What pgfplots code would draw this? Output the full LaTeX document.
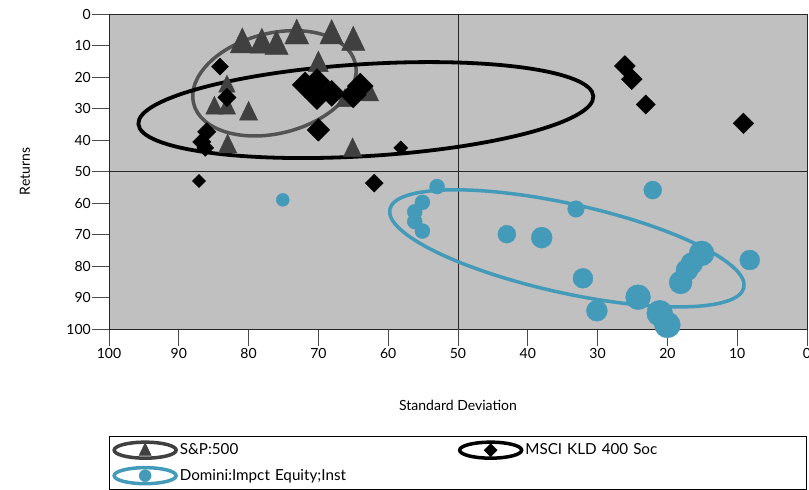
\documentclass[border=0pt]{standalone}
\usepackage{fontspec}
\setmainfont{Lato}
\usepackage{pgfplots}
\usepackage{pgfplotstable}
\pgfplotsset{compat=1.18}
\definecolor{bggray}{RGB}{192,192,192}
\definecolor{spgray}{RGB}{64,64,64}
\definecolor{domblue}{RGB}{68,154,185}

\pgfplotstableread{
x y s
80.9 9.7 13.9
78.1 9.8 13.9
76.0 10.3 13.5
73.1 6.9 13.9
68.1 6.9 13.5
65.0 9.0 13.5
70.0 16.1 11.5
83.1 23.0 9.5
84.9 29.9 10
83.1 29.9 10
80.0 31.7 10.5
83.0 42.1 10.5
65.1 43.3 10.5
62.6 25.7 10
66.2 27.5 10
}\sptable

\pgfplotstableread{
x y s
84.1 16.7 6
83.1 26.5 6.5
86.0 37.4 6.5
86.7 40.6 6.5
86.2 42.5 6
71.9 22.5 9.2
70.2 21.5 9.2
70.2 26.2 9.2
68.1 25.2 9.2
65.0 25.7 9.2
64.0 22.9 9.2
70.0 36.8 8.0
58.2 42.5 5
87.1 53.0 4.7
62.0 53.7 6.4
26.1 16.5 7.4
25.1 20.7 7.4
23.1 28.7 6.8
9.1 34.7 7.3
}\kldtable

\pgfplotstableread{
x y s
53.0 54.8 7.5
55.1 59.8 7.5
56.2 62.8 7.5
56.2 65.9 7.5
55.1 68.9 7.5
43.0 69.9 9
38.0 71.0 10.5
33.1 61.9 8.3
32.1 83.9 10
22.1 55.9 9
8.2 78.1 10
15.1 76.0 12.5
16.5 79.2 11
17.2 81.3 11
18.1 85.2 11.5
24.2 89.9 12.5
30.1 94.2 10.5
21.1 95.0 13
20.0 98.7 13
75.1 59.0 6.5
}\domtable

\begin{document}
\begin{tikzpicture}
\begin{axis}[
  at={(0,0)}, anchor=south west,
  scale only axis, width=698bp, height=315bp,
  x dir=reverse, y dir=reverse,
  xmin=0, xmax=100, ymin=0, ymax=100,
  xtick={0,10,...,100}, ytick={0,10,...,100},
  xtick pos=left, ytick pos=left,
  tick align=outside, major tick length=17bp,
  clip=false,
  axis background/.style={fill=bggray},
  axis line style={black!85, line width=0.8bp},
  tick style={black!70, line width=0.8bp},
  /pgf/number format/assume math mode=true,
  tick label style={font=\fontsize{14bp}{16bp}\selectfont},
  xticklabel style={inner sep=2bp},
  yticklabel style={inner sep=1bp},
  extra x ticks={50}, extra x tick labels={},
  extra y ticks={50}, extra y tick labels={},
  extra tick style={grid=major, major grid style={black!85, line width=0.8bp}},
  xlabel={Standard Deviation}, ylabel={Returns},
  xlabel style={at={(axis description cs:0.5,-0.2413)}, anchor=center, font=\fontsize{14bp}{16bp}\selectfont},
  ylabel style={at={(axis description cs:-0.1203,0.5)}, anchor=center, rotate=0, font=\fontsize{14bp}{16bp}\selectfont},
  legend columns=2,
  legend cell align=left,
  legend style={at={(axis description cs:0,-0.3397)}, anchor=north west,
    draw=black, line width=0.8bp, inner xsep=3bp, inner ysep=4bp,
    row sep=6bp,
    font=\fontsize{15.2bp}{17bp}\selectfont,
    nodes={inner sep=2bp, text width=276bp, align=left}},
]
\addplot[scatter, only marks, mark=triangle*,
  mark options={yscale=1.2},
  scatter/use mapped color={draw=spgray, fill=spgray},
  visualization depends on={\thisrow{s} \as \ms},
  scatter/@pre marker code/.append style={/tikz/mark size=\ms},
  legend image code/.code={
    \draw[draw=spgray, line width=3.5bp] (33bp,0bp) ellipse [x radius=31bp, y radius=8bp];
    \draw[spgray, fill=spgray, line width=0.4bp, mark size=7bp] plot[mark=triangle*, mark options={yscale=1.2}] coordinates {(33bp,-1bp)};
  }]
  table[x=x, y=y] {\sptable};
\addlegendentry{S\&P:500}

\addplot[scatter, only marks, mark=square*,
  mark options={rotate=45},
  scatter/use mapped color={draw=black, fill=black},
  visualization depends on={\thisrow{s} \as \ms},
  scatter/@pre marker code/.append style={/tikz/mark size=\ms},
  legend image code/.code={
    \draw[draw=black, line width=3.5bp] (33bp,0bp) ellipse [x radius=31bp, y radius=8bp];
    \draw[black, fill=black, line width=0.4bp, mark size=4.6bp] plot[mark=square*, mark options={rotate=45}] coordinates {(33bp,0bp)};
  }]
  table[x=x, y=y] {\kldtable};
\addlegendentry{MSCI KLD 400 Soc}

\addplot[scatter, only marks, mark=*,
  scatter/use mapped color={draw=domblue, fill=domblue},
  visualization depends on={\thisrow{s} \as \ms},
  scatter/@pre marker code/.append style={/tikz/mark size=\ms},
  legend image code/.code={
    \draw[draw=domblue, line width=3.5bp] (33bp,0bp) ellipse [x radius=31bp, y radius=8bp];
    \draw[domblue, fill=domblue, line width=0.4bp, mark size=6bp] plot[mark=*] coordinates {(33bp,0bp)};
  }]
  table[x=x, y=y] {\domtable};
\addlegendentry{Domini:Impct Equity;Inst}

\draw[spgray!90!white, line width=3.5bp] (axis cs:76.3,22.0) ellipse [x radius=83.3bp, y radius=50.1bp, rotate=14.1];
\draw[black, line width=3.8bp] (axis cs:63.2,30.5) ellipse [x radius=227.9bp, y radius=46.0bp, rotate=3.5];
\draw[domblue, line width=3.5bp] (axis cs:34.4,74.4) ellipse [x radius=181.3bp, y radius=44.5bp, rotate=-12.5];
\end{axis}
\pgfresetboundingbox
\path[use as bounding box] (-109bp,-161bp) rectangle (700bp,329bp);
\end{tikzpicture}
\end{document}
